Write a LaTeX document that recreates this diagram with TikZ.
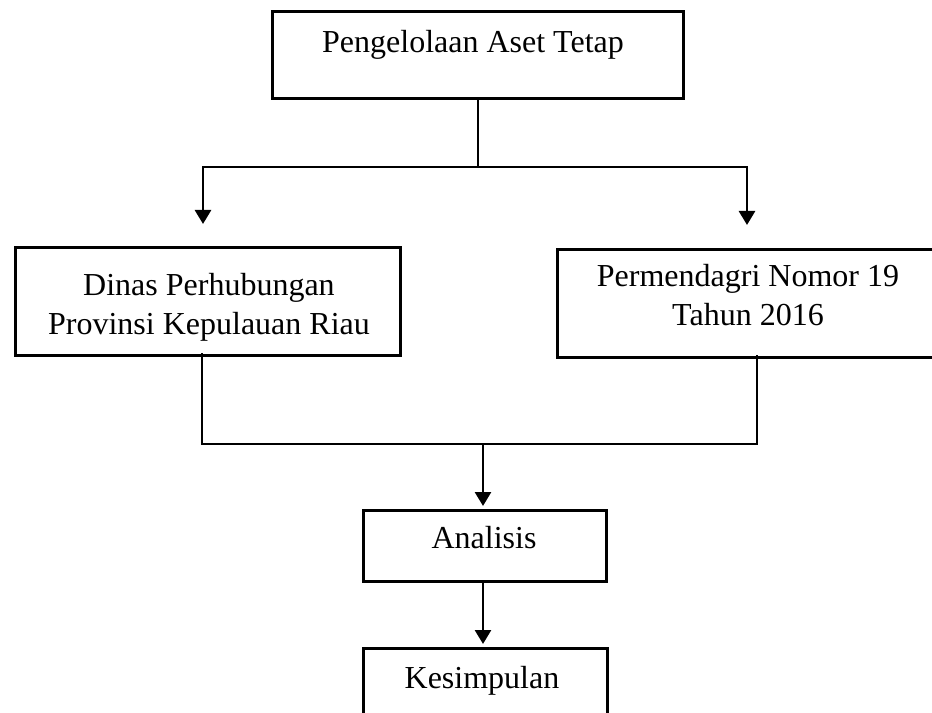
\documentclass[tikz,border=0pt]{standalone}
\usepackage{fontspec}
\setmainfont{Liberation Serif}
\usetikzlibrary{arrows.meta,calc}
\begin{document}
\begin{tikzpicture}[x=0.75pt,y=-0.75pt,
  box/.style={draw=black,line width=2pt,rectangle,inner sep=0pt,anchor=north west},
  txt/.style={font=\fontsize{24pt}{28.5pt}\selectfont,inner sep=0pt,align=center,anchor=base},
  conn/.style={line width=2pt,line cap=rect},
  arr/.style={line width=2pt,-{Triangle[width=12pt,length=10.5pt]}}]
\useasboundingbox (0,0) rectangle (932,713);
% boxes
\node[box,minimum width=308.25pt,minimum height=65.25pt] (top) at (271,10) {};
\node[box,minimum width=288.75pt,minimum height=81pt] (left) at (14,246) {};
\node[box,minimum width=288pt,minimum height=81pt] (right) at (556,248) {};
\node[box,minimum width=182.25pt,minimum height=53.25pt] (ana) at (362,509) {};
\node[box,minimum width=183pt,minimum height=54.75pt] (kes) at (362,647) {};
% texts
\node[txt] (ttop) at (473,53) {Pengelolaan Aset Tetap};
\node[txt] (tleft) at (209,334) {Dinas Perhubungan\\Provinsi Kepulauan Riau};
\node[txt] (tright) at (748,325) {Permendagri Nomor 19\\Tahun 2016};
\node[txt] (tana) at (484,548) {Analisis};
\node[txt] (tkes) at (482,688) {Kesimpulan};
% junctions
\coordinate (j1) at (top.south |- 0,167);
\coordinate (jL) at (203,167);
\coordinate (jR) at (747,167);
\coordinate (aL) at (203,224);
\coordinate (aR) at (747,225);
\coordinate (lb) at (202,354);
\coordinate (rb) at (757,356);
\coordinate (cL) at (202,444);
\coordinate (cR) at (757,444);
\coordinate (cM) at (483,444);
\coordinate (aA) at (483,506);
\coordinate (sA) at (483,580);
\coordinate (aK) at (483,644);
% connectors
\draw[conn] (top.south) -- (j1);
\draw[conn] (jL) -- (jR);
\draw[arr] (jL) -- (aL);
\draw[arr] (jR) -- (aR);
\draw[conn] (lb) -- (cL) -- (cR) -- (rb);
\draw[arr] (cM) -- (aA);
\draw[arr] (sA) -- (aK);
\end{tikzpicture}
\end{document}
